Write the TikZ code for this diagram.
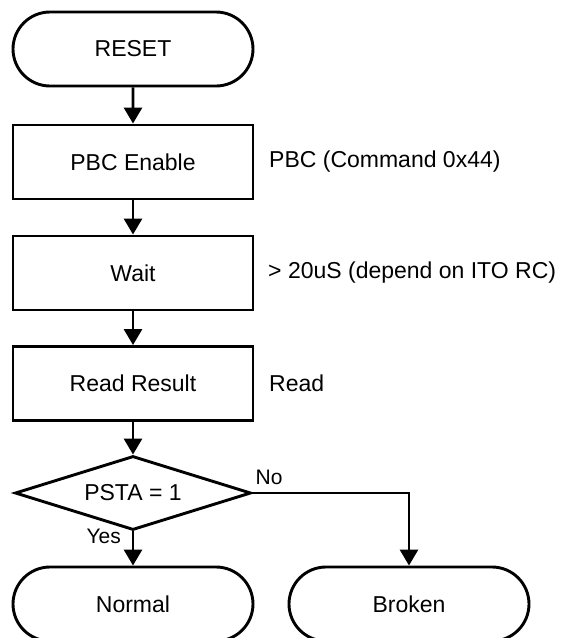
\documentclass[tikz,border=0pt]{standalone}
\usepackage{fontspec}
\setmainfont{Liberation Sans}
\usetikzlibrary{arrows.meta,shapes.geometric,shapes.misc}
\begin{document}
\begin{tikzpicture}[x=1pt,y=-1pt,
  every node/.style={inner sep=0pt, font=\fontsize{23}{28}\selectfont},
  term/.style={draw, line width=2.9pt, rounded rectangle, minimum width=240pt, minimum height=74pt},
  procbox/.style={draw, line width=2.9pt, rectangle, minimum width=240pt, minimum height=74pt},
  decis/.style={draw, line width=2.9pt, diamond, shape aspect=3.2, minimum width=236pt, minimum height=74pt},
  note/.style={anchor=west},
  small/.style={font=\fontsize{21}{25}\selectfont},
  conn/.style={line width=2.9pt, -{Triangle[width=18pt,length=16pt]}}
]
\useasboundingbox (0,0) rectangle (561,638);
\node[term] (reset) at (133,49) {RESET};
\node[procbox] (pbc) at (133,162) {PBC Enable};
\node[procbox] (wait) at (133,273) {Wait};
\node[procbox] (read) at (133,383.5) {Read Result};
\node[decis] (dec) at (133,493) {PSTA = 1};
\node[term] (normal) at (133,604) {Normal};
\node[term] (broken) at (409,604) {Broken};
\node[note] (n1) at (269,162) {PBC (Command 0x44)};
\node[note] (n2) at (268,273) {> 20uS (depend on ITO RC)};
\node[note] (n3) at (269,383.5) {Read};
\node[small, anchor=base east] (yes) at ([xshift=-12pt,yshift=-12pt]dec.south) {Yes};
\node[small, anchor=base west] (no) at ([xshift=3pt,yshift=9pt]dec.east) {No};
\draw[conn] (reset) -- (pbc);
\draw[conn] (pbc) -- (wait);
\draw[conn] (wait) -- (read);
\draw[conn] (read) -- (dec);
\draw[conn] (dec) -- (normal);
\draw[conn] (dec.east) -| (broken.north);
\end{tikzpicture}
\end{document}
